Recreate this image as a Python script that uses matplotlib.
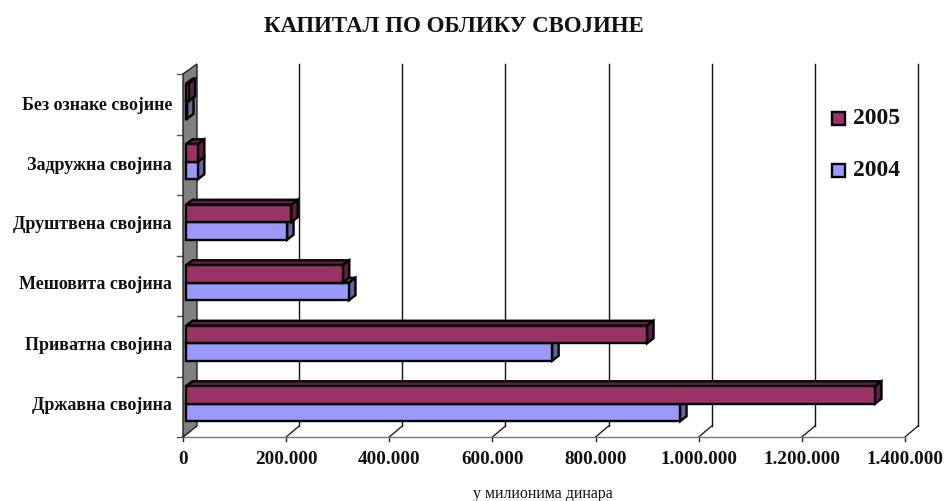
import matplotlib
matplotlib.use('Agg')
import matplotlib.pyplot as plt
from matplotlib.patches import Polygon, Rectangle

plt.rcParams['font.family'] = ['Liberation Serif', 'DejaVu Serif']

categories = ['Државна својина', 'Приватна својина', 'Мешовита својина',
              'Друштвена својина', 'Задружна својина', 'Без ознаке својине']
values_2004 = [958000, 710000, 316000, 196000, 23000, 2000]
values_2005 = [1336000, 894000, 304000, 204000, 23000, 5000]
x_ticks = [0, 200000, 400000, 600000, 800000, 1000000, 1200000, 1400000]
x_labels = ['0', '200.000', '400.000', '600.000', '800.000', '1.000.000', '1.200.000', '1.400.000']
series_names = ['2005', '2004']
color_2005 = ('#993366', '#5E1F42')
color_2004 = ('#9999FF', '#666699')

W, H = 945, 502
fig = plt.figure(figsize=(W / 100, H / 100), dpi=100)
ax = fig.add_axes([183 / W, (H - 438) / H, 722 / W, 363 / H])
xmax = x_ticks[-1]
n = len(categories)
ax.set_xlim(0, xmax)
ax.set_ylim(0, n)
ax.axis('off')

ux = xmax / 722   # data per pixel
uy = n / 363
WX, WY = 14 * ux, 11 * uy          # wall depth
BX, BY = 3 * ux, 3 * uy            # bar inset
DX, DY = 6.5 * ux, 5 * uy          # bar depth
BH = 17.5 * uy

# wall
ax.add_patch(Polygon([(0, 0), (WX, WY), (WX, n + 10 * uy), (0, n)],
                     closed=True, fc='#808080', ec='#222222', lw=1.0, clip_on=False, zorder=1))
# gridlines, floor
for t in x_ticks[1:]:
    ax.plot([t + WX - ux, t + WX - ux], [WY, n + 10 * uy], color='#111111', lw=1.0, clip_on=False, zorder=0.5)
for k, t in enumerate(x_ticks):
    ax.plot([t, t + WX - ux], [0, WY], color='#222222', lw=1.0, clip_on=False, zorder=0.6)
    ax.plot([t, t], [0, -4 * uy], color='#222222', lw=1.0, clip_on=False, zorder=0.6)
    ax.text(t, -21.5 * uy, x_labels[k], ha='center', va='center',
            fontsize=13.8, fontweight='bold', color='#111111', clip_on=False)
ax.plot([0, xmax], [0, 0], color='#777777', lw=1.0, clip_on=False, zorder=0.7)
for i in range(n + 1):
    ax.plot([-6 * ux, 0], [i, i], color='#555555', lw=1.0, clip_on=False, zorder=0.7)


def bar3d(val, y0, cols):
    front, dark = cols
    x0 = BX
    x1 = BX + val
    y1 = y0 + BH
    kw = dict(closed=True, ec='black', lw=1.7, joinstyle='miter', clip_on=False, zorder=3)
    ax.add_patch(Polygon([(x0, y1), (x0 + DX, y1 + DY), (x1 + DX, y1 + DY), (x1, y1)], fc=dark, **kw))
    ax.add_patch(Polygon([(x1, y0), (x1 + DX, y0 + DY), (x1 + DX, y1 + DY), (x1, y1)], fc=dark, **kw))
    ax.add_patch(Polygon([(x0, y0), (x1, y0), (x1, y1), (x0, y1)], fc=front, **kw))


for i, cat in enumerate(categories):
    c = i + 0.5 + BY
    bar3d(values_2004[i], c - BH, color_2004)
    bar3d(values_2005[i], c, color_2005)
    ax.text(-11 * ux, i + 0.5 + 2 * uy if i < 4 else i + 0.5, cat, ha='right', va='center',
            fontsize=13, fontweight='bold', color='#111111', clip_on=False)

# legend
for name, col, yp in zip(series_names, (color_2005, color_2004), (119, 171)):
    fig.add_artist(Rectangle((832.5 / W, 1 - (yp + 6.5) / H), 13 / W, 13 / H, transform=fig.transFigure,
                             fc=col[0], ec='black', lw=1.7))
    fig.text(853 / W, 1 - yp / H, name, ha='left', va='center', fontsize=17, fontweight='bold', color='#111111')

fig.text(454 / W, 1 - 26 / H, 'КАПИТАЛ ПО ОБЛИКУ СВОЈИНЕ', ha='center', va='center',
         fontsize=16.5, fontweight='bold', color='#111111')
fig.text(543 / W, 1 - 494 / H, 'у милионима динара', ha='center', va='center', fontsize=11.4, color='#111111')
fig.savefig('out.png', dpi=100, facecolor='white')
